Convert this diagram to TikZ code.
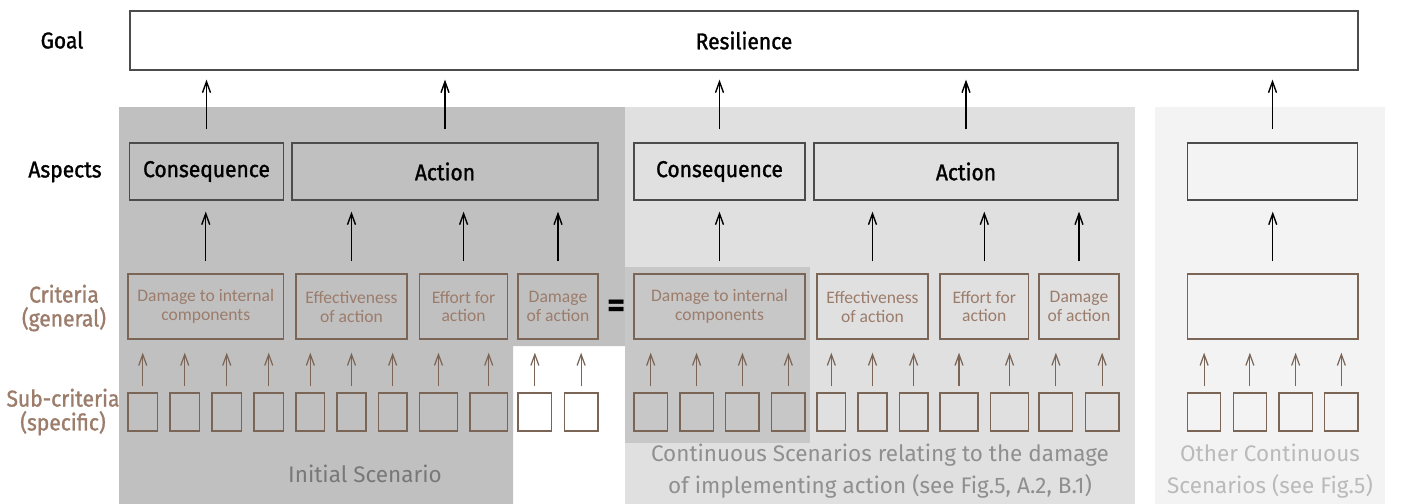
\documentclass[tikz,border=0pt]{standalone}
\usepackage{fontspec}
\setmainfont{Fira Sans}
\newfontfamily\headfont[FakeBold=1.3, FakeStretch=0.92]{Fira Sans}
\newfontfamily\boxfont{Carlito}
\usepackage{tikz}
\usetikzlibrary{arrows.meta}
\definecolor{brownline}{HTML}{7B6556}
\definecolor{browntext}{HTML}{9C7C6B}
\definecolor{scenA}{HTML}{C0C0C0}
\definecolor{scenB}{HTML}{E0E0E0}
\definecolor{scenC}{HTML}{F3F3F3}
\definecolor{patch}{HTML}{C7C7C7}
\newcommand{\pxu}{0.02cm}

\begin{document}
\begin{tikzpicture}[x=0.02cm, y=-0.02cm, >={Straight Barb[length=2.2mm, width=1.6mm]},
  head/.style={font=\headfont\fontsize{13}{13.6}\selectfont, align=center},
  box/.style={draw=black!70, line width=0.7pt, minimum height=57*\pxu, inner sep=0pt,
    font=\headfont\fontsize{13}{13.6}\selectfont},
  crit/.style={draw=brownline, line width=0.8pt, minimum height=65*\pxu, inner sep=0pt,
    text=browntext, font=\boxfont\fontsize{10}{10.8}\selectfont, align=center},
  sub/.style={draw=brownline, line width=0.8pt, minimum height=38*\pxu, inner sep=0pt},
  uparrow/.style={->, line width=0.8pt},
  barrow/.style={->, brownline, line width=0.7pt},
  scen/.style={font=\fontsize{12.8}{18}\selectfont, align=center}]
\useasboundingbox (0,0) rectangle (1401,504);

\fill[scenA] (119,107) -- (625,107) -- (625,346) -- (513,346) -- (513,504) -- (119,504) -- cycle;
\fill[scenB] (625,107) rectangle (1135,504);
\fill[scenC] (1155,107) rectangle (1385,504);
\fill[patch] (625,267) rectangle (810,443);

\node[head] (lgoal) at (62,40) {Goal};
\node[head] (lasp) at (65,172) {Aspects};
\node[head, text=browntext] (lcrit) at (64,308) {Criteria\\(general)};
\node[head, text=browntext] (lsub) at (63,412) {Sub-criteria\\(specific)};

\node[box, minimum width=1228*\pxu, minimum height=59*\pxu] (goal) at (744,40.5) {Resilience};

\node[box, minimum width=154*\pxu] (aspA1) at (206.5,171.5) {Consequence};
\node[box, minimum width=306*\pxu] (aspA2) at (445,171.5) {Action};
\node[box, minimum width=171*\pxu] (aspB1) at (719.5,171.5) {Consequence};
\node[box, minimum width=304*\pxu] (aspB2) at (966,171.5) {Action};
\node[box, minimum width=170*\pxu] (aspC) at (1272.5,171.5) {};

\node[crit, minimum width=155.5*\pxu] (crA1) at (205.75,306.5) {Damage to internal\\components};
\node[crit, minimum width=111*\pxu] (crA2) at (351.5,306.5) {Effectiveness\\of action};
\node[crit, minimum width=88*\pxu] (crA3) at (463.6,306.5) {Effort for\\action};
\node[crit, minimum width=80*\pxu] (crA4) at (558,306.5) {Damage\\of action};
\node[font=\fontsize{20}{20}\selectfont\bfseries] (eq) at (617,309) {=};
\node[crit, minimum width=171*\pxu] (crB1) at (719.5,306.5) {Damage to internal\\components};
\node[crit, minimum width=111*\pxu] (crB2) at (872.5,306.5) {Effectiveness\\of action};
\node[crit, minimum width=88.6*\pxu] (crB3) at (984.3,306.5) {Effort for\\action};
\node[crit, minimum width=80*\pxu] (crB4) at (1079,306.5) {Damage\\of action};
\node[crit, minimum width=170.5*\pxu] (crC) at (1272.75,306.5) {};

\foreach \nm/\l/\r/\n in {crA1/128/283.5/4, crA2/296/407/3, crA3/419.6/507.6/2, crA4/518/598/2,
    crB1/634/805/4, crB2/817/928/3, crB3/940/1028.6/2, crB4/1039/1119/2, crC/1187.5/1358/4}{
  \pgfmathsetmacro{\w}{(\r-\l-(\n-1)*12.5)/\n}
  \foreach \i in {1,...,\n}{
    \pgfmathsetmacro{\cx}{\l+\w/2+(\i-1)*(\w+12.5)}
    \node[sub, minimum width=\w*\pxu] (\nm-\i) at (\cx,412) {};
    \draw[barrow, shorten <=0.12cm, shorten >=0.26cm] (\nm-\i) -- (\nm-\i |- \nm.south);
  }
}

\foreach \c/\a in {crA1/aspA1, crA2/aspA2, crA3/aspA2, crA4/aspA2,
    crB1/aspB1, crB2/aspB2, crB3/aspB2, crB4/aspB2, crC/aspC}
  \draw[uparrow, shorten <=0.24cm, shorten >=0.22cm] (\c) -- (\c |- \a.south);
\foreach \a in {aspA1, aspA2, aspB1, aspB2, aspC}
  \draw[uparrow, shorten <=0.26cm, shorten >=0.18cm] (\a) -- (\a |- goal.south);

\node[scen, text=black!53] (scA) at (365,474) {Initial Scenario};
\node[scen, text=black!44] (scB) at (880,471) {Continuous Scenarios relating to the damage\\of implementing action (see Fig.5, A.2, B.1)};
\node[scen, text=black!27] (scC) at (1270,471) {Other Continuous\\Scenarios (see Fig.5)};
\end{tikzpicture}
\end{document}
